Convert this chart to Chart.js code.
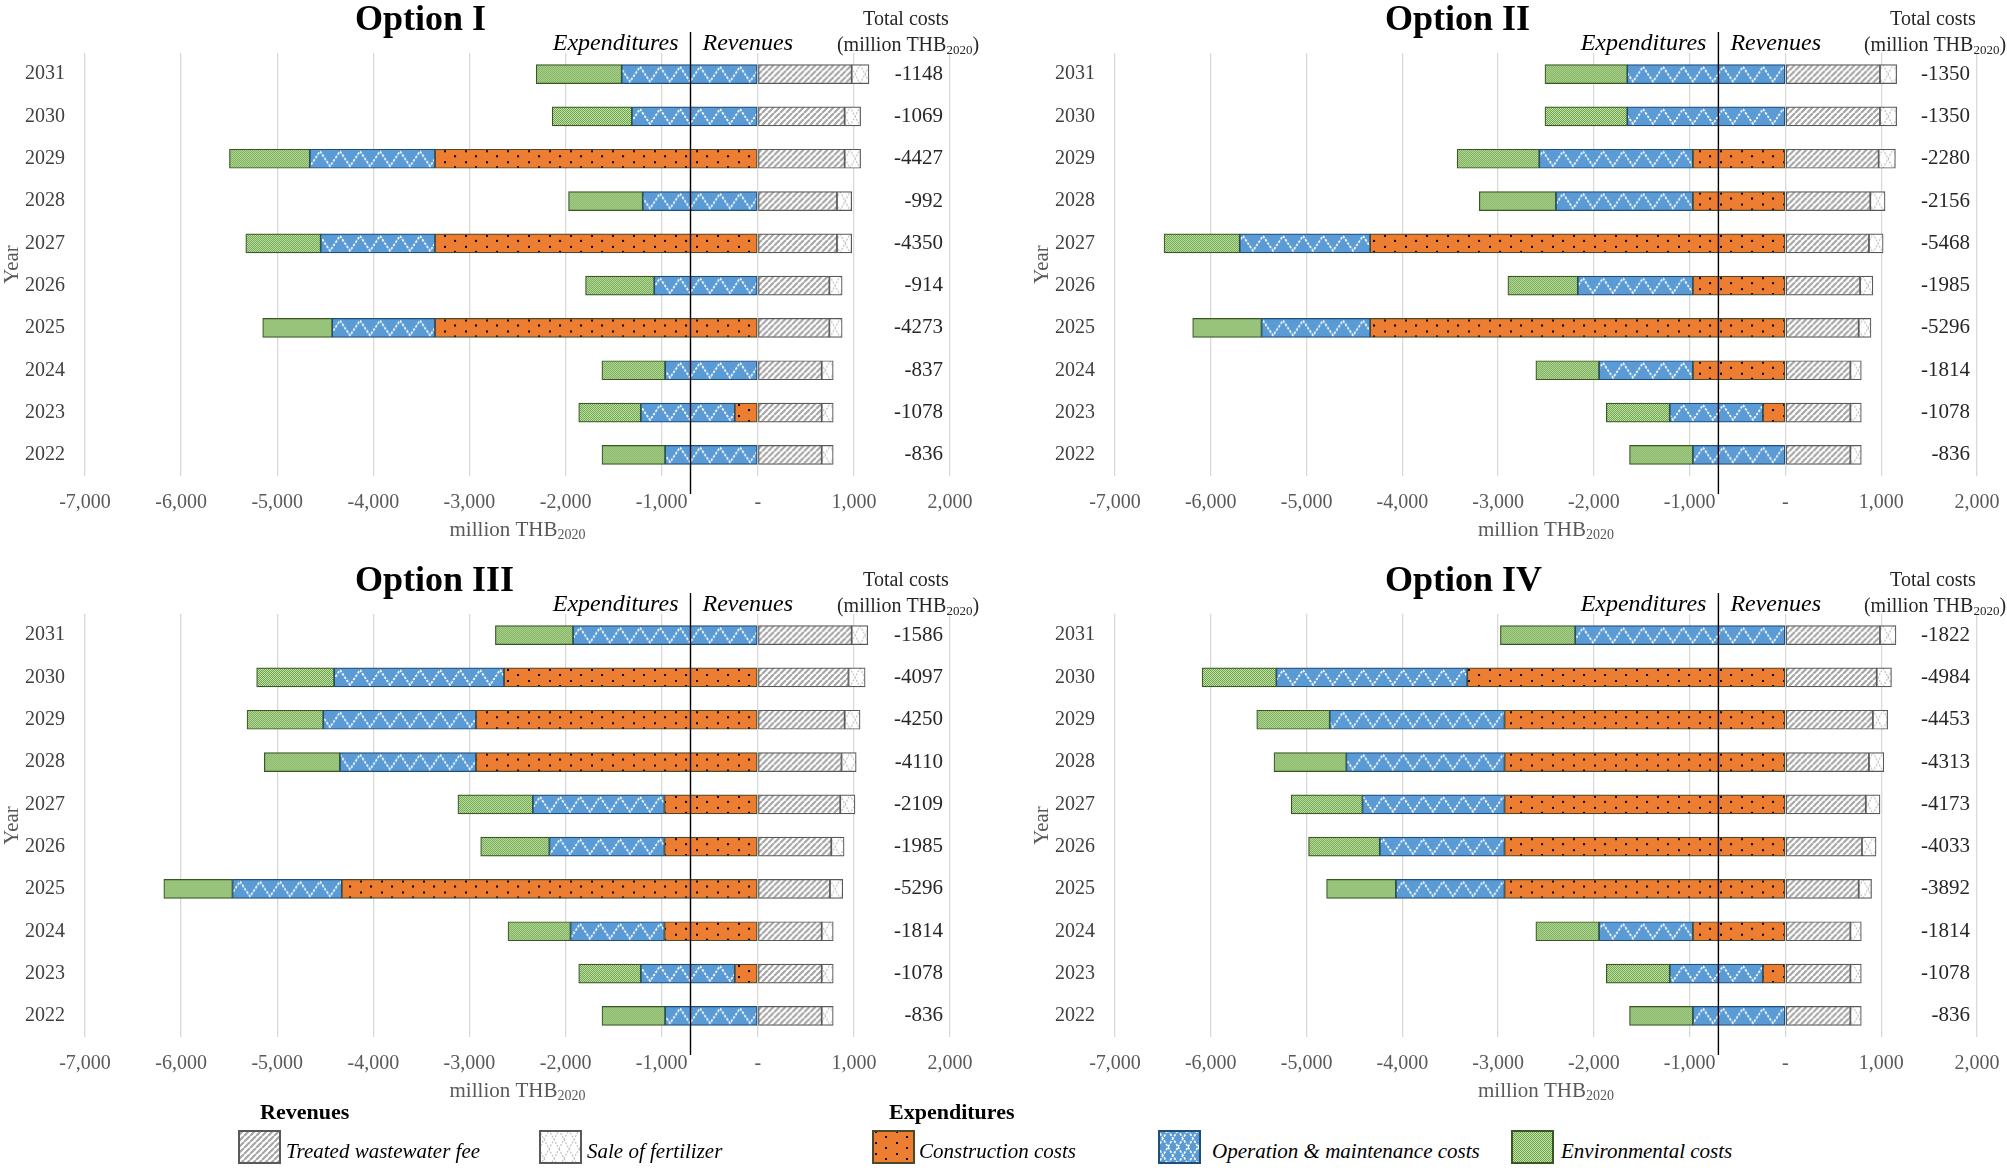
<!DOCTYPE html>
<html>
<head>
<meta charset="utf-8">
<script src="https://cdn.jsdelivr.net/npm/chart.js@4.4.1/dist/chart.umd.min.js"></script>
<style>
html,body{margin:0;padding:0;background:#fff;}
body{width:2007px;height:1170px;position:relative;overflow:hidden;font-family:"Liberation Serif","Times New Roman",serif;}
.panel{position:absolute;}
.lg-head{position:absolute;font-weight:bold;font-size:22px;line-height:26px;color:#000;white-space:nowrap;}
.lg-text{position:absolute;font-style:italic;font-size:21px;line-height:26px;color:#000;white-space:nowrap;}
.lg-patch{position:absolute;}
</style>
</head>
<body>
<div class="panel" style="left:0;top:0;width:1003px;height:552px"><canvas id="c1" width="1003" height="552"></canvas></div>
<div class="panel" style="left:1003px;top:0;width:1004px;height:552px"><canvas id="c2" width="1004" height="552"></canvas></div>
<div class="panel" style="left:0;top:561px;width:1003px;height:552px"><canvas id="c3" width="1003" height="552"></canvas></div>
<div class="panel" style="left:1003px;top:561px;width:1004px;height:552px"><canvas id="c4" width="1004" height="552"></canvas></div>
<div id="legend"></div>
<script>
// ---------------- DATA ----------------
const years = [2022, 2023, 2024, 2025, 2026, 2027, 2028, 2029, 2030, 2031];
const seriesNames = ['Construction costs', 'Operation & maintenance costs', 'Environmental costs', 'Treated wastewater fee', 'Sale of fertilizer'];
const xTickLabels = ['-7,000', '-6,000', '-5,000', '-4,000', '-3,000', '-2,000', '-1,000', '-', '1,000', '2,000'];
const optionTitles = ['Option I', 'Option II', 'Option III', 'Option IV'];

// Option I
const opt1Construction = [0, -239, 0, -3358, 0, -3358, 0, -3358, 0, 0];
const opt1OM           = [-964, -978, -964, -1070, -1077, -1190, -1197, -1303, -1310, -1416];
const opt1Env          = [-657, -646, -658, -723, -715, -779, -772, -836, -829, -889];
const opt1Wastewater   = [665, 665, 665, 745, 745, 824, 824, 904, 904, 977];
const opt1Fertilizer   = [120, 120, 120, 133, 133, 153, 153, 166, 166, 180];
const opt1Total        = [-836, -1078, -837, -4273, -914, -4350, -992, -4427, -1069, -1148];

// Option II
const opt2Construction = [0, -235, -966, -4336, -966, -4336, -966, -966, 0, 0];
const opt2OM           = [-966, -973, -980, -1134, -1202, -1362, -1430, -1604, -1651, -1651];
const opt2Env          = [-662, -662, -660, -719, -730, -790, -800, -858, -860, -860];
const opt2Wastewater   = [678, 678, 678, 765, 779, 872, 886, 973, 987, 987];
const opt2Fertilizer   = [114, 114, 114, 128, 134, 148, 154, 175, 174, 174];
const opt2Total        = [-836, -1078, -1814, -5296, -1985, -5468, -2156, -2280, -1350, -1350];

// Option III
const opt3Construction = [0, -239, -971, -4328, -971, -971, -2932, -2932, -2640, 0];
const opt3OM           = [-964, -978, -977, -1137, -1197, -1369, -1416, -1589, -1768, -1922];
const opt3Env          = [-657, -646, -651, -715, -715, -780, -786, -793, -806, -808];
const opt3Wastewater   = [665, 665, 665, 751, 765, 858, 871, 904, 944, 977];
const opt3Fertilizer   = [120, 120, 120, 133, 133, 153, 153, 160, 173, 167];
const opt3Total        = [-836, -1078, -1814, -5296, -1985, -2109, -4110, -4250, -4097, -1586];

// Option IV
const opt4Construction = [0, -235, -966, -2933, -2933, -2933, -2933, -2933, -3322, 0];
const opt4OM           = [-966, -973, -980, -1134, -1302, -1483, -1651, -1825, -1993, -2195];
const opt4Env          = [-662, -662, -660, -724, -744, -744, -756, -762, -776, -781];
const opt4Wastewater   = [678, 678, 678, 765, 799, 839, 872, 913, 953, 987];
const opt4Fertilizer   = [114, 114, 114, 134, 147, 148, 155, 154, 154, 167];
const opt4Total        = [-836, -1078, -1814, -3892, -4033, -4173, -4313, -4453, -4984, -1822];

// ---------------- STYLE ----------------
const FONT = '"Liberation Serif", "Times New Roman", serif';
const xMin = -7000, xMax = 2000, xStep = 1000;
const dividerValue = -700;
const BAR_H = 19;
const borderColors = ['#4a4a2a', '#1f4e79', '#385723', '#595959', '#595959'];
const kinds = ['construction', 'om', 'env', 'ww', 'fert'];

function makeTile(w, h, fn) {
  const c = document.createElement('canvas'); c.width = w; c.height = h;
  const g = c.getContext('2d'); fn(g, w, h); return c;
}
function lattice(g, w, h, bg, fg, lw, dash) {
  g.fillStyle = bg; g.fillRect(0, 0, w, h);
  g.strokeStyle = fg; g.lineWidth = lw; g.setLineDash(dash);
  g.beginPath();
  g.moveTo(0, 0); g.lineTo(w / 2, h); g.lineTo(w, 0);
  g.moveTo(0, h); g.lineTo(w / 2, 0); g.lineTo(w, h);
  g.stroke();
}
const tiles = {
  construction: makeTile(21, 11, g => {
    g.fillStyle = '#ED7D31'; g.fillRect(0, 0, 21, 11);
    g.fillStyle = '#000'; g.fillRect(3, 1, 2, 2); g.fillRect(13, 6, 2, 2);
  }),
  om: makeTile(20, 19, g => {
    g.fillStyle = '#5B9BD5'; g.fillRect(0, 0, 20, 19);
    g.strokeStyle = '#fff'; g.lineWidth = 1.7; g.setLineDash([2.5, 1.5]);
    g.beginPath(); g.moveTo(0, 2); g.lineTo(10, 17); g.lineTo(20, 2); g.stroke();
  }),
  env: makeTile(4, 4, g => {
    g.fillStyle = '#6aa83f'; g.fillRect(0, 0, 4, 4);
    g.fillStyle = 'rgba(255,255,255,0.62)';
    [[0, 0], [2, 0], [1, 1], [3, 1], [0, 2], [2, 2], [1, 3], [3, 3]].forEach(([a, b]) => g.fillRect(a, b, 1, 1));
  }),
  ww: makeTile(6, 6, g => {
    g.fillStyle = '#fff'; g.fillRect(0, 0, 6, 6);
    g.strokeStyle = '#a6a6a6'; g.lineWidth = 2.2; g.beginPath();
    for (let k = -1; k <= 1; k++) { g.moveTo(k * 6, 6); g.lineTo(k * 6 + 6, 0); }
    g.stroke();
  }),
  fert: makeTile(20, 19, g => lattice(g, 20, 19, '#fff', '#bfbfbf', 1.2, [2, 1.5])),
  omLegend: makeTile(20, 17, g => lattice(g, 20, 17, '#5B9BD5', '#fff', 1.6, [2.5, 1.5]))
};

function patternFill(kind) {
  return (c) => {
    const p = c.chart.ctx.createPattern(tiles[kind], 'repeat');
    const sc = c.chart.scales && c.chart.scales.y;
    if (sc && c.dataIndex !== undefined) {
      const cy = sc.getPixelForValue(c.dataIndex);
      if (isFinite(cy)) p.setTransform(new DOMMatrix([1, 0, 0, 1, 0, cy - BAR_H / 2]));
    }
    return p;
  };
}

function makeDatasets(arrs) {
  return arrs.map((arr, k) => ({
    label: seriesNames[k],
    data: arr.map(v => (v === 0 ? null : v)),
    backgroundColor: patternFill(kinds[k]),
    borderColor: borderColors[k],
    borderWidth: 1.2,
    borderSkipped: false,
    barThickness: BAR_H,
    stack: 's'
  }));
}

function drawParts(ctx, parts, cx, cy, align) {
  let total = 0;
  parts.forEach(p => { ctx.font = p.font; p.w = ctx.measureText(p.t).width; total += p.w; });
  let x = align === 'center' ? cx - total / 2 : cx;
  ctx.textAlign = 'left';
  parts.forEach(p => { ctx.font = p.font; ctx.fillText(p.t, x, cy + (p.dy || 0)); x += p.w; });
}

const decor = {
  id: 'decor',
  afterDatasetsDraw(chart, args, o) {
    const { ctx, chartArea: a } = chart;
    const x = chart.scales.x, y = chart.scales.y;
    ctx.save();
    // divider line
    const lx = x.getPixelForValue(dividerValue);
    ctx.strokeStyle = '#000'; ctx.lineWidth = 1.4;
    ctx.beginPath(); ctx.moveTo(lx, a.top - 21); ctx.lineTo(lx, a.bottom + 18); ctx.stroke();
    // Expenditures | Revenues
    ctx.fillStyle = '#000';
    ctx.font = 'italic 24px ' + FONT; ctx.textBaseline = 'middle';
    ctx.textAlign = 'right'; ctx.fillText('Expenditures', lx - 12, a.top - 9);
    ctx.textAlign = 'left'; ctx.fillText('Revenues', lx + 12, a.top - 9);
    // title
    ctx.font = 'bold 36px ' + FONT; ctx.textBaseline = 'alphabetic';
    ctx.fillText(o.title, a.left + 270, 30);
    // Total costs header
    ctx.fillStyle = '#262626'; ctx.textBaseline = 'middle';
    ctx.font = '20px ' + FONT; ctx.textAlign = 'center';
    ctx.fillText('Total costs', a.right - 44, 20);
    drawParts(ctx, [
      { t: '(million THB', font: '20px ' + FONT },
      { t: '2020', font: '13px ' + FONT, dy: 5 },
      { t: ')', font: '20px ' + FONT }
    ], a.right - 42, 46, 'center');
    // total values
    ctx.font = '21px ' + FONT; ctx.textAlign = 'right'; ctx.textBaseline = 'middle';
    o.totals.forEach((v, i) => ctx.fillText(String(v), a.right - 7, y.getPixelForValue(i)));
    // x axis title
    ctx.fillStyle = '#595959';
    drawParts(ctx, [
      { t: 'million THB', font: '21px ' + FONT },
      { t: '2020', font: '14px ' + FONT, dy: 5 }
    ], (a.left + a.right) / 2, a.bottom + 54, 'center');
    ctx.restore();
  }
};

Chart.defaults.font.family = FONT;

function makeChart(id, idx, arrs, totals, padLeft, padRight) {
  return new Chart(document.getElementById(id), {
    type: 'bar',
    data: { labels: years.map(String), datasets: makeDatasets(arrs) },
    options: {
      indexAxis: 'y',
      responsive: false,
      animation: false,
      events: [],
      layout: { padding: { left: padLeft, right: padRight, top: 53, bottom: 0 } },
      plugins: {
        legend: { display: false },
        tooltip: { enabled: false },
        decor: { title: optionTitles[idx], totals: totals }
      },
      scales: {
        x: {
          type: 'linear', stacked: true, min: xMin, max: xMax,
          grid: { color: '#d9d9d9', lineWidth: 1.3, drawTicks: false },
          border: { display: false },
          ticks: {
            stepSize: xStep, padding: 15, color: '#595959', maxRotation: 0, autoSkip: false,
            font: { size: 20 },
            callback: (v) => xTickLabels[Math.round((v - xMin) / xStep)]
          },
          afterFit: (s) => { s.height = 76; s.paddingLeft = 0; s.paddingRight = 0; }
        },
        y: {
          type: 'category', stacked: true, reverse: true,
          grid: { display: false, drawTicks: false },
          border: { display: false },
          ticks: { padding: 20, color: '#404040', font: { size: 20 } },
          title: { display: true, text: 'Year', color: '#595959', font: { size: 21 }, padding: 0 },
          afterFit: (s) => { s.width = 85; s.paddingTop = 0; s.paddingBottom = 0; }
        }
      }
    },
    plugins: [decor]
  });
}

makeChart('c1', 0, [opt1Construction, opt1OM, opt1Env, opt1Wastewater, opt1Fertilizer], opt1Total, 0, 53);
makeChart('c2', 1, [opt2Construction, opt2OM, opt2Env, opt2Wastewater, opt2Fertilizer], opt2Total, 27, 30);
makeChart('c3', 2, [opt3Construction, opt3OM, opt3Env, opt3Wastewater, opt3Fertilizer], opt3Total, 0, 53);
makeChart('c4', 3, [opt4Construction, opt4OM, opt4Env, opt4Wastewater, opt4Fertilizer], opt4Total, 27, 30);

// ---------------- LEGEND ----------------
const legend = document.getElementById('legend');
const heads = [{ t: 'Revenues', left: 260 }, { t: 'Expenditures', left: 889 }];
heads.forEach(h => {
  const d = document.createElement('div'); d.className = 'lg-head';
  d.style.left = h.left + 'px'; d.style.top = '1099px'; d.textContent = h.t; legend.appendChild(d);
});
const items = [
  { k: 3, px: 238, tx: 286, tile: 'ww' },
  { k: 4, px: 539, tx: 587, tile: 'fert' },
  { k: 0, px: 872, tx: 919, tile: 'construction' },
  { k: 1, px: 1158, tx: 1212, tile: 'omLegend' },
  { k: 2, px: 1511, tx: 1561, tile: 'env' }
];
items.forEach(it => {
  const c = document.createElement('canvas'); c.className = 'lg-patch';
  c.width = 43; c.height = 34; c.style.left = it.px + 'px'; c.style.top = '1130px';
  const g = c.getContext('2d');
  g.fillStyle = g.createPattern(tiles[it.tile], 'repeat'); g.fillRect(0, 0, 43, 34);
  g.strokeStyle = borderColors[it.k]; g.lineWidth = 2; g.strokeRect(1, 1, 41, 32);
  legend.appendChild(c);
  const d = document.createElement('div'); d.className = 'lg-text';
  d.style.left = it.tx + 'px'; d.style.top = '1138px'; d.textContent = seriesNames[it.k];
  legend.appendChild(d);
});
</script>
</body>
</html>
